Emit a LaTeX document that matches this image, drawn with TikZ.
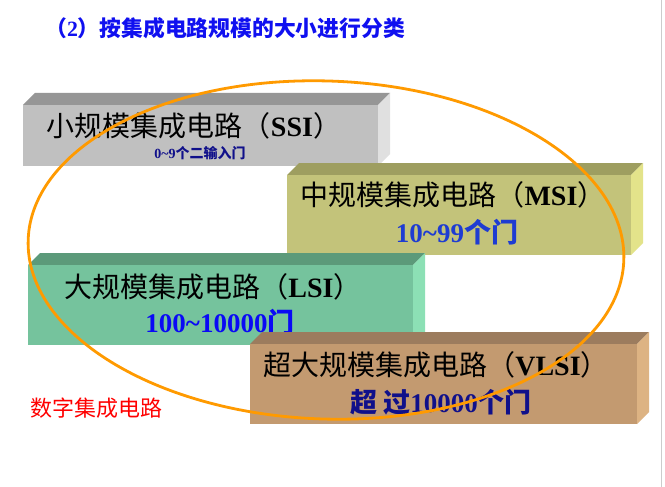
\documentclass[tikz,border=0pt]{standalone}
\usepackage{fontspec}
\setmainfont{Liberation Serif}
\newfontfamily\cjk{Noto Sans CJK SC}
\definecolor{titleblue}{HTML}{1010F0}
\definecolor{navy}{HTML}{10108A}
\definecolor{midblue}{HTML}{1E3CD2}
\definecolor{pureblue}{HTML}{0A0AF5}
\definecolor{arcorange}{HTML}{FF9A00}
\definecolor{fA}{HTML}{C0C0C0}\definecolor{tA}{HTML}{969696}\definecolor{sA}{HTML}{E0E0E0}
\definecolor{fB}{HTML}{C3C37A}\definecolor{tB}{HTML}{9E9E60}\definecolor{sB}{HTML}{E3E38A}
\definecolor{fC}{HTML}{75C39D}\definecolor{tC}{HTML}{5C9A7A}\definecolor{sC}{HTML}{8CE0B5}
\definecolor{fD}{HTML}{C39A70}\definecolor{tD}{HTML}{9C7C5E}\definecolor{sD}{HTML}{DDB383}
\newcommand\drawslab[7]{%
  \fill[#6] (#1,#2) -- (#1+12,#2-12) -- (#3+12,#2-12) -- (#3,#2) -- cycle;
  \fill[#7] (#3,#2) -- (#3+12,#2-12) -- (#3+12,#4-12) -- (#3,#4) -- cycle;
  \fill[#5] (#1,#2) rectangle (#3,#4);
}
\tikzset{
  maintext/.style={inner sep=0pt, font=\fontsize{28}{30}\selectfont},
  subtext/.style={inner sep=0pt, font=\fontsize{27}{29}\selectfont\bfseries},
}
\begin{document}
\begin{tikzpicture}[x=1pt,y=-1pt]
\useasboundingbox (0,0) rectangle (665,487);
\fill[white] (0,0) rectangle (665,487);
\draw[black!20, line width=1pt] (661.5,0) -- (661.5,487);
% title
\node[inner sep=0pt, text=titleblue, font=\fontsize{21.8}{24}\selectfont\bfseries, anchor=west] (title) at (45,28)
  {{\cjk （}2{\cjk ）按集成电路规模的大小进行分类}};
% boxes
\drawslab{23}{105}{378}{166}{fA}{tA}{sA}
\node[maintext] (ssi) at (194,126) {{\cjk 小规模集成电路（}\textbf{SSI}{\cjk ）}};
\node[inner sep=0pt, text=navy, font=\fontsize{14}{16}\selectfont\bfseries] (ssisub) at (200,153)
  {0\textasciitilde 9{\cjk 个二输入门}};
\drawslab{287}{175}{631}{255}{fB}{tB}{sB}
\node[maintext] (msi) at (453,195) {{\cjk 中规模集成电路（}\textbf{MSI}{\cjk ）}};
\node[subtext, text=midblue] (msisub) at (457,232) {10\textasciitilde 99{\cjk 个门}};
\drawslab{28}{265}{413}{345}{fC}{tC}{sC}
\node[maintext] (lsi) at (213,287) {{\cjk 大规模集成电路（}\textbf{LSI}{\cjk ）}};
\node[subtext, text=pureblue] (lsisub) at (220,322) {100\textasciitilde 10000{\cjk 门}};
\drawslab{250}{344}{637}{424}{fD}{tD}{sD}
\node[maintext] (vlsi) at (436,365) {{\cjk 超大规模集成电路（}\textbf{VLSI}{\cjk ）}};
\node[subtext, text=navy] (vlsisub) at (441,402) {{\cjk 超\hspace{6pt}过}10000{\cjk 个门}};
% label
\node[inner sep=0pt, text=red, font=\fontsize{22}{24}\selectfont\cjk, anchor=west] (digital) at (30,408) {数字集成电路};
% ellipse
\draw[arcorange, line width=2.8pt, rotate around={-2:(326,250)}] (326,250) ellipse [x radius=298, y radius=169];
\end{tikzpicture}
\end{document}
